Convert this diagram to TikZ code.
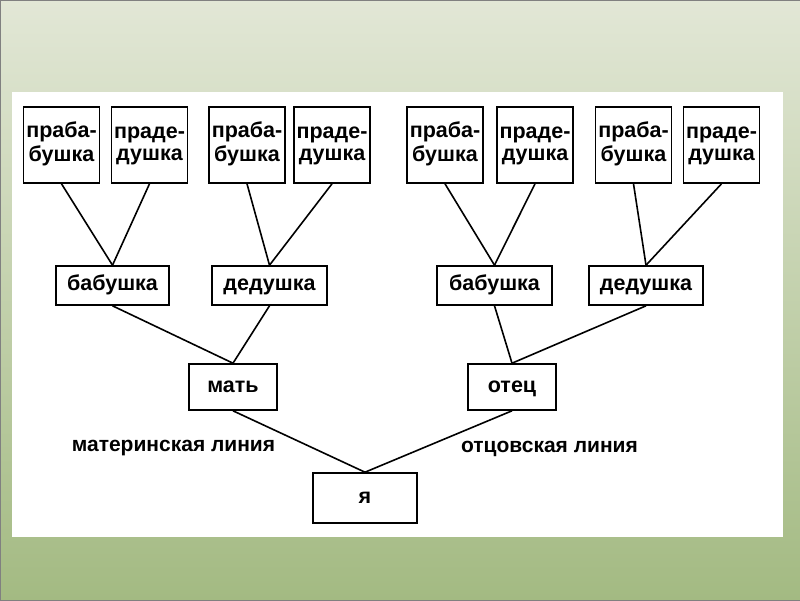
\documentclass[tikz,border=0pt]{standalone}
\usepackage{fontspec}
\setmainfont{Liberation Sans}
\usepackage{tikz}
\definecolor{bgtop}{RGB}{226,231,214}
\definecolor{bgmid}{RGB}{204,216,184}
\definecolor{bgbot}{RGB}{163,186,130}
\newcommand{\twoline}[2]{\strut#1\\\strut#2}
\begin{document}
\begin{tikzpicture}[
			x=1pt, y=-1pt,
			box/.style={draw, line width=1.6pt, inner sep=0pt, align=center, font=\bfseries\fontsize{21.5}{22}\selectfont},
			single/.style={box, text height=15pt, text depth=5pt},
			elder/.style={box, minimum width=76pt, minimum height=76pt},
			parent/.style={single, minimum height=39pt},
			link/.style={line width=1.6pt}
			]
			\useasboundingbox (0,0) rectangle (800,600);
			
			% Background
			\shade[top color=bgtop, middle color=bgmid, bottom color=bgbot] (0,0) rectangle (800,600);
			\draw[gray, line width=1pt] (0,0) rectangle (800,600);
			\fill[white] (12,92) rectangle (783,537);
			
			% Great-grandparents
			\node[elder] (gg1) at (61.5,145) {\twoline{праба-}{бушка}};
			\node[elder] (gg2) at (149.5,145) {\twoline{праде-}{душка}};
			\node[elder] (gg3) at (247,145) {\twoline{праба-}{бушка}};
			\node[elder] (gg4) at (332,145) {\twoline{праде-}{душка}};
			\node[elder] (gg5) at (445,145) {\twoline{праба-}{бушка}};
			\node[elder] (gg6) at (535,145) {\twoline{праде-}{душка}};
			\node[elder] (gg7) at (633.5,145) {\twoline{праба-}{бушка}};
			\node[elder] (gg8) at (721.5,145) {\twoline{праде-}{душка}};
			
			% Grandparents
			\node[parent, minimum width=113pt] (gm1) at (112.5,285.5) {бабушка};
			\node[parent, minimum width=115pt] (gf1) at (269.5,285.5) {дедушка};
			\node[parent, minimum width=115pt] (gm2) at (494.5,285.5) {бабушка};
			\node[parent, minimum width=114pt] (gf2) at (646,285.5) {дедушка};
			
			% Parents
			\node[single, minimum width=88pt, minimum height=46pt] (mother) at (233,387) {мать};
			\node[single, minimum width=88pt, minimum height=46pt] (father) at (512,387) {отец};
			
			% Me
			\node[single, minimum width=104pt, minimum height=50pt] (me) at (365,498) {я};
			
			% Lines
			\node[font=\bfseries\fontsize{21}{22}\selectfont] (mline) at (173.5,448) {материнская линия};
			\node[font=\bfseries\fontsize{21}{22}\selectfont] (fline) at (549.5,449) {отцовская линия};
			
			% Links
			\draw[link] (gg1.south) -- (gm1.north);
			\draw[link] (gg2.south) -- (gm1.north);
			\draw[link] (gg3.south) -- (gf1.north);
			\draw[link] (gg4.south) -- (gf1.north);
			\draw[link] (gg5.south) -- (gm2.north);
			\draw[link] (gg6.south) -- (gm2.north);
			\draw[link] (gg7.south) -- (gf2.north);
			\draw[link] (gg8.south) -- (gf2.north);
			\draw[link] (gm1.south) -- (mother.north);
			\draw[link] (gf1.south) -- (mother.north);
			\draw[link] (gm2.south) -- (father.north);
			\draw[link] (gf2.south) -- (father.north);
			\draw[link] (mother.south) -- (me.north);
			\draw[link] (father.south) -- (me.north);
			
		\end{tikzpicture}
\end{document}
